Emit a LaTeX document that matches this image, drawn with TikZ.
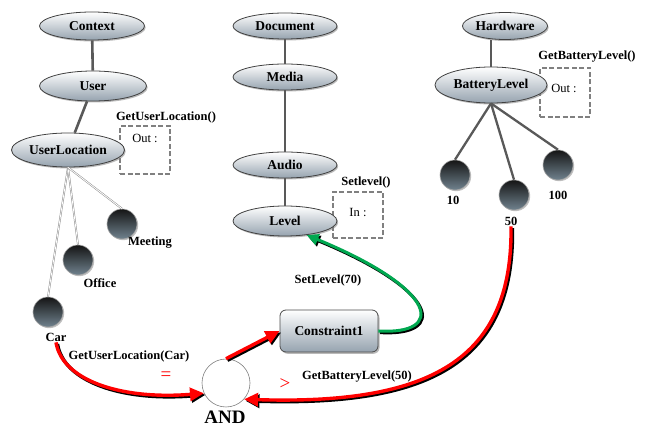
\documentclass[tikz,border=0pt]{standalone}
\usepackage{fontspec}
\setmainfont{Liberation Serif}
\usetikzlibrary{shapes.geometric,shadows,arrows.meta}
\definecolor{ovalbot}{RGB}{150,163,175}
\definecolor{ballbot}{RGB}{112,130,142}
\definecolor{arrred}{RGB}{255,0,0}
\definecolor{arrgreen}{RGB}{0,168,80}
\tikzset{
  oval/.style={ellipse, draw=black!75, line width=0.8pt, top color=white, bottom color=ovalbot,
    drop shadow={shadow xshift=1.2pt, shadow yshift=-1.5pt, opacity=0.55},
    font=\fontsize{13.5}{13.5}\selectfont\bfseries, inner sep=0pt},
  ball/.style={circle, minimum size=30pt, inner sep=0pt, draw=black!35, line width=0.6pt,
    top color=black!92, bottom color=ballbot,
    drop shadow={shadow xshift=1.2pt, shadow yshift=-1.2pt, opacity=0.5}},
  lbl/.style={font=\fontsize{12.5}{12.5}\selectfont\bfseries, inner sep=1pt},
  plain/.style={font=\fontsize{12.5}{12.5}\selectfont, inner sep=1pt},
  outbox/.style={draw=black!50, line width=1.8pt, dash pattern=on 5pt off 2.5pt, inner sep=0pt},
  stem/.style={draw=black!65, line width=2.6pt},
  twig/.style={draw=black!45, double=white, double distance=0.8pt, line width=0.5pt},
  cbox/.style={rectangle, rounded corners=6pt, draw=black!70, line width=0.8pt, top color=white, bottom color=ovalbot,
    drop shadow={shadow xshift=1.5pt, shadow yshift=-1.8pt, opacity=0.55},
    font=\fontsize{13.5}{13.5}\selectfont\bfseries, inner sep=0pt},
  redmark/.style={font=\fontsize{19}{19}\selectfont, text=arrred, inner sep=0pt},
  redarrow/.style={draw=arrred, line width=3.4pt, -{Triangle[length=14pt,width=13pt]}},
  greenarrow/.style={draw=arrgreen, line width=3pt, -{Triangle[length=12pt,width=11pt]}},
  shadowarrow/.style={draw=black, transform canvas={shift={(1.5pt,-1.6pt)}}}
}
\begin{document}
\begin{tikzpicture}[x=1pt,y=-1pt]
\useasboundingbox (0,0) rectangle (649,427);
% dashed boxes
\node[outbox, minimum width=50pt, minimum height=48pt] (box1) at (145,150) {};
\node[outbox, minimum width=50pt, minimum height=46pt] (box2) at (358,215) {};
\node[outbox, minimum width=50pt, minimum height=49pt] (box3) at (565,92.5) {};
\node[plain] (out1) at (145,138) {Out :};
\node[plain] (in2) at (358,212) {In :};
\node[plain] (out3) at (564,88) {Out :};
\node[lbl] (f1) at (166,117) {GetUserLocation()};
\node[lbl] (f2) at (366,182) {Setlevel()};
\node[lbl] (f3) at (587,57) {GetBatteryLevel()};
% ellipses
\node[oval, minimum width=105pt, minimum height=28pt] (ctx) at (92,26) {Context};
\node[oval, minimum width=107pt, minimum height=30pt] (user) at (93,86) {User};
\node[oval, minimum width=113pt, minimum height=34pt] (ul) at (68,150) {UserLocation};
\node[oval, minimum width=104pt, minimum height=26pt] (doc) at (285,26) {Document};
\node[oval, minimum width=104pt, minimum height=26pt] (media) at (285,77) {Media};
\node[oval, minimum width=104pt, minimum height=26pt] (audio) at (285,165) {Audio};
\node[oval, minimum width=104pt, minimum height=30pt] (level) at (285,221) {Level};
\node[oval, minimum width=85pt, minimum height=27pt] (hw) at (505,26) {Hardware};
\node[oval, minimum width=112pt, minimum height=36pt] (bl) at (491,85) {BatteryLevel};
% stems
\draw[stem] (ctx) -- (user);
\draw[stem] (user) -- (ul);
\draw[stem] (doc) -- (media);
\draw[stem] (media) -- (audio);
\draw[stem] (audio) -- (level);
\draw[stem] (hw.south -| bl.north) -- (bl.north);
% balls
\node[ball] (car) at (48,312) {};
\node[ball] (office) at (78,260) {};
\node[ball] (meet) at (122,224) {};
\node[ball] (b10) at (455,175) {};
\node[ball] (b50) at (514,195) {};
\node[ball] (b100) at (558,165) {};
\node[lbl] (carl) at (56,337) {Car};
\node[lbl] (officel) at (100,283) {Office};
\node[lbl] (meetl) at (150,243) {Meeting};
\node[lbl] (b10l) at (453,200) {10};
\node[lbl] (b50l) at (511,221) {50};
\node[lbl] (b100l) at (558,195) {100};
\draw[twig] (ul.south) -- (car.north);
\draw[twig] (ul.south) -- (office.north);
\draw[twig] (ul.south) -- (meet.north);
\draw[stem, line width=2.3pt] (bl.south) -- (b10.north);
\draw[stem, line width=2.3pt] (bl.south) -- (b50.north);
\draw[stem, line width=2.3pt] (bl.south) -- (b100.north);
% constraint and AND
\node[cbox, minimum width=98pt, minimum height=42pt] (con) at (329,331) {Constraint1};
\node[circle, draw=black!50, line width=0.6pt, fill=white, minimum size=48pt, inner sep=0pt] (and) at (226,383) {};
\node[font=\fontsize{19}{19}\selectfont\bfseries, inner sep=0pt] (andl) at (225,417) {AND};
% labels
\node[lbl] (setl) at (328,280) {SetLevel(70)};
\node[lbl] (gulc) at (129,356) {GetUserLocation(Car)};
\node[lbl] (gbl) at (357,377) {GetBatteryLevel(50)};
\node[redmark] (eq) at (166,376) {=};
\node[redmark] (gt) at (285,384) {>};
% arrows
\draw[greenarrow, shadowarrow] (con.east) .. controls (445,335) and (440,290) .. (level.-33);
\draw[greenarrow] (con.east) .. controls (445,335) and (440,290) .. (level.-33);
\draw[redarrow, shadowarrow] (carl.south) .. controls (62,380) and (120,400) .. (and.205);
\draw[redarrow] (carl.south) .. controls (62,380) and (120,400) .. (and.205);
\draw[redarrow, shadowarrow] (and.north) -- (con.west);
\draw[redarrow] (and.north) -- (con.west);
\draw[redarrow, shadowarrow] (b50l.south) .. controls (513,360) and (430,405) .. (and.-42);
\draw[redarrow] (b50l.south) .. controls (513,360) and (430,405) .. (and.-42);
\end{tikzpicture}
\end{document}
